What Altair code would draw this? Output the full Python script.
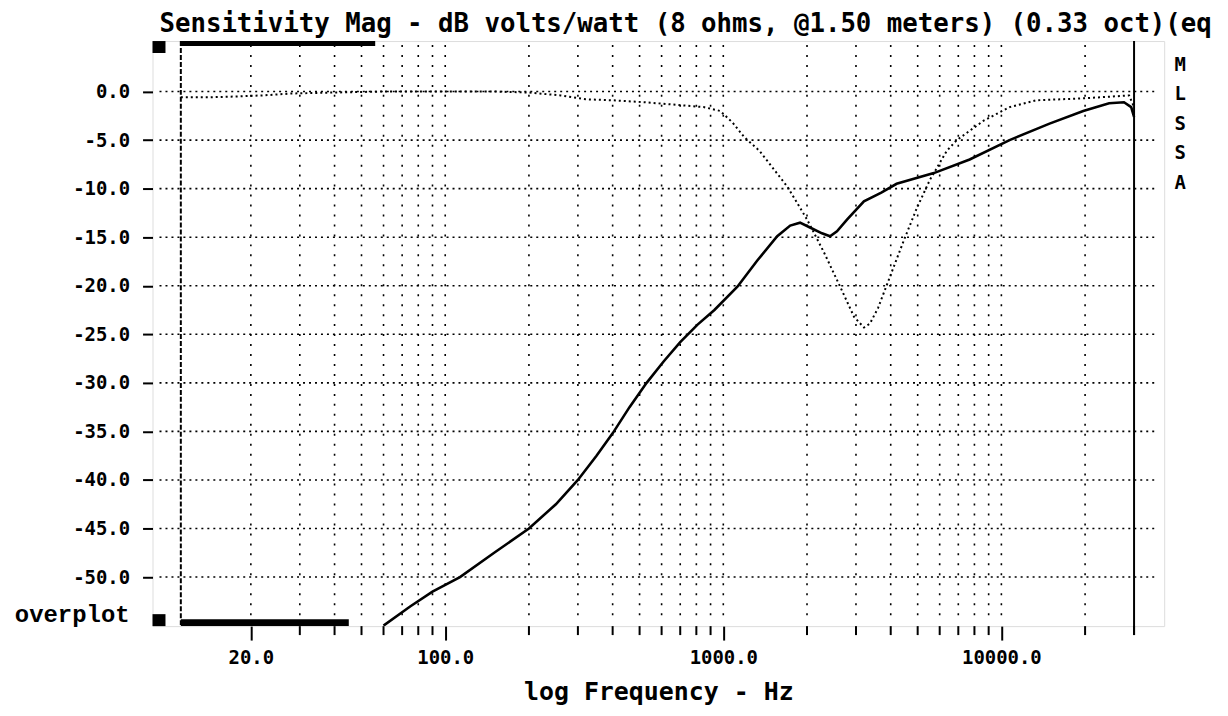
import altair as alt
import pandas as pd

# ---------------- data ----------------
solid_freq = [60, 75, 90, 113, 150, 200, 250, 300, 350, 400, 460, 530, 610, 700, 808,
              929, 1124, 1325, 1563, 1740, 1888, 2050, 2264, 2420, 2563, 2785, 3204,
              3700, 4200, 5715, 7690, 10700, 14900, 19700, 24400, 27600, 29300, 30000]
solid_db = [-55.0, -53.0, -51.5, -50.0, -47.5, -45.0, -42.5, -40.0, -37.5, -35.2, -32.5,
            -30.0, -27.8, -25.8, -24.0, -22.5, -20.1, -17.4, -14.9, -13.8, -13.5, -14.0,
            -14.6, -14.9, -14.4, -13.2, -11.3, -10.4, -9.5, -8.4, -7.0, -5.0, -3.3, -2.0,
            -1.2, -1.1, -1.6, -2.6]

dotted_freq = [11.2, 14, 18, 22, 28, 40, 60, 100, 150, 200, 260, 320, 400, 520, 700, 850,
               975, 1080, 1190, 1349, 1500, 1700, 2003, 2305, 2632, 2953, 3205, 3367, 3600,
               3781, 3971, 4463, 4966, 5532, 6365, 6917, 8636, 10710, 13370, 19700, 28800,
               30000]
dotted_db = [-0.6, -0.6, -0.5, -0.4, -0.2, -0.1, 0.0, 0.0, 0.0, -0.1, -0.4, -0.8, -0.9,
             -1.1, -1.4, -1.6, -2.0, -3.2, -4.7, -6.1, -7.8, -9.8, -13.2, -16.6, -20.1,
             -23.2, -24.3, -23.9, -22.3, -20.7, -19.1, -15.3, -12.0, -9.1, -6.1, -5.0,
             -3.0, -1.6, -0.9, -0.7, -0.4, -1.6]

y_ticks = [0, -5, -10, -15, -20, -25, -30, -35, -40, -45, -50]
major_ticks = [20, 100, 1000, 10000]
minor_ticks = [30, 40, 50, 60, 70, 80, 90, 200, 300, 400, 500, 600, 700, 800, 900,
               2000, 3000, 4000, 5000, 6000, 7000, 8000, 9000, 20000, 30000]
grid_freqs = [20, 30, 40, 50, 60, 70, 80, 90, 100, 200, 300, 400, 500, 600, 700, 800, 900,
              1000, 2000, 3000, 4000, 5000, 6000, 7000, 8000, 9000, 10000, 20000]
left_cursor = [11.2]
right_cursor = [30000]
top_bar = {"f": [11.2], "f2": [56]}
bottom_bar = {"f": [11.2], "f2": [45]}

title_text = "Sensitivity Mag - dB volts/watt (8 ohms, @1.50 meters) (0.33 oct)(eq"
x_title = "log Frequency - Hz"
side_letters = "M\nL\nS\nS\nA"

# ---------------- chart ----------------
W, H = 1015, 587
MONO = "DejaVu Sans Mono"
xs = alt.Scale(type="log", domain=[8.86, 38500], nice=False)
ys = alt.Scale(domain=[-55.05, 5.2], nice=False, zero=False)

xaxis = alt.Axis(
    values=major_ticks, labelExpr="format(datum.value, '.1f')",
    tickSize=14, tickWidth=2, tickColor="black", domain=False, grid=False,
    labelFont=MONO, labelFontWeight="bold", labelFontSize=19, labelColor="black",
    labelBaseline="alphabetic", labelPadding=24,
    title=x_title, titleFont=MONO, titleFontWeight="bold", titleFontSize=25,
    titleColor="black", titleBaseline="alphabetic", titleY=74,
)
yaxis = alt.Axis(
    values=y_ticks,
    labelExpr="datum.value == 0 ? '0.0' : '-' + format(abs(datum.value), '.1f')",
    tickSize=10, tickWidth=2, tickColor="black", domain=False, grid=False,
    labelFont=MONO, labelFontWeight="bold", labelFontSize=19, labelColor="black",
    labelPadding=13, title=None,
)

X = alt.X("f:Q", scale=xs, axis=xaxis)
Y = alt.Y("db:Q", scale=ys, axis=yaxis)

solid_df = pd.DataFrame({"f": solid_freq, "db": solid_db})
dotted_df = pd.DataFrame({"f": dotted_freq, "db": dotted_db})
dummy = pd.DataFrame({"a": [0]})

hgrid = alt.Chart(pd.DataFrame({"db": y_ticks})).mark_rule(
    color="black", strokeWidth=1.6, strokeDash=[2, 4]
).encode(y=Y, x=alt.value(7), x2=alt.value(W - 10))

vgrid = alt.Chart(pd.DataFrame({"f": grid_freqs})).mark_rule(
    color="black", strokeWidth=1.6, strokeDash=[2, 8]
).encode(x=X, y=alt.value(4), y2=alt.value(H - 4))

minor = alt.Chart(pd.DataFrame({"f": minor_ticks})).mark_rule(
    color="black", strokeWidth=2
).encode(x=X, y=alt.value(H), y2=alt.value(H + 9))

solid = alt.Chart(solid_df).mark_line(color="black", strokeWidth=2.6, clip=True).encode(
    x=X, y=Y)

dotted = alt.Chart(dotted_df).mark_line(
    color="black", strokeWidth=2, strokeDash=[2, 3], clip=True
).encode(x=X, y=Y)

lcur = alt.Chart(pd.DataFrame({"f": left_cursor})).mark_rule(
    color="black", strokeWidth=2, strokeDash=[5, 2]
).encode(x=X)

rcur = alt.Chart(pd.DataFrame({"f": right_cursor})).mark_rule(
    color="black", strokeWidth=2
).encode(x=X, y=alt.value(0), y2=alt.value(H + 9))

tbar = alt.Chart(pd.DataFrame(top_bar)).mark_rect(color="black").encode(
    x=X, x2="f2:Q", y=alt.value(0), y2=alt.value(5))
bbar = alt.Chart(pd.DataFrame(bottom_bar)).mark_rect(color="black").encode(
    x=X, x2="f2:Q", y=alt.value(H - 7), y2=alt.value(H))

sq_top = alt.Chart(dummy).mark_rect(color="black").encode(
    x=alt.value(0), x2=alt.value(13), y=alt.value(0), y2=alt.value(12))
sq_bot = alt.Chart(dummy).mark_rect(color="black").encode(
    x=alt.value(0), x2=alt.value(13), y=alt.value(H - 12), y2=alt.value(H))

overplot = alt.Chart(dummy).mark_text(
    align="right", baseline="alphabetic", font="Liberation Mono", fontWeight="bold",
    fontSize=24, color="black"
).encode(x=alt.value(-23), y=alt.value(H - 4), text=alt.value("overplot"))

letters = alt.Chart(dummy).mark_text(
    align="center", baseline="middle", font=MONO, fontWeight="bold", fontSize=19,
    color="black", lineBreak="\n", lineHeight=29.5
).encode(x=alt.value(W + 16), y=alt.value(24), text=alt.value(side_letters))

title = alt.Chart(dummy).mark_text(
    align="left", baseline="alphabetic", font=MONO, fontWeight="bold", fontSize=25.8,
    color="black"
).encode(x=alt.value(7), y=alt.value(-9), text=alt.value(title_text))

chart = alt.layer(
    hgrid, vgrid, minor, solid, dotted, lcur, rcur, tbar, bbar, sq_top, sq_bot,
    overplot, letters, title
).properties(
    width=W, height=H,
    autosize=alt.AutoSizeParams(type="none"),
    padding={"left": 145, "top": 32, "right": 56, "bottom": 81},
).configure_view(stroke="black", strokeWidth=2).configure(background="white")

chart.save("out.html", embed_options={"renderer": "svg", "actions": False})
